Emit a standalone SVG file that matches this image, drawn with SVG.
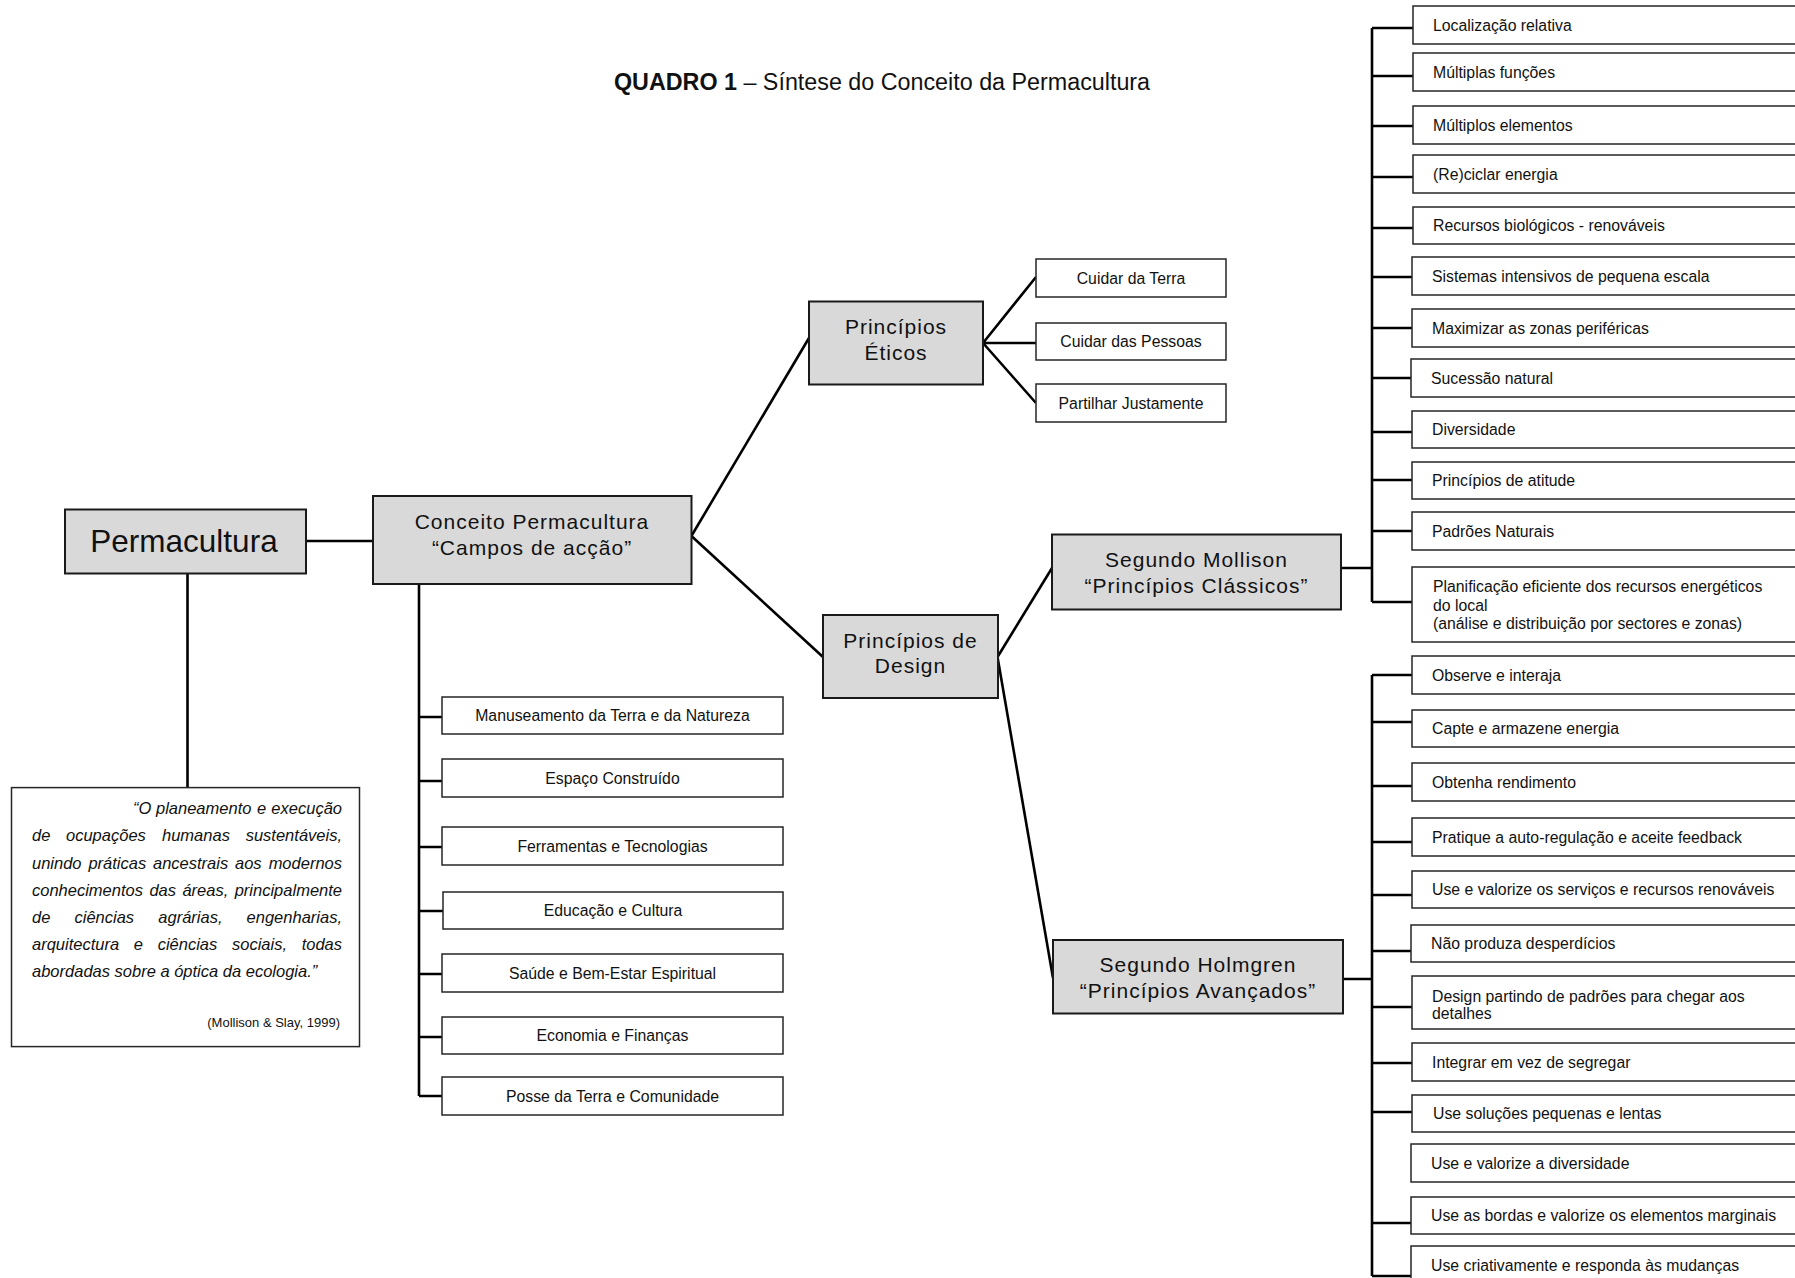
<svg xmlns="http://www.w3.org/2000/svg" width="1795" height="1278" viewBox="0 0 1795 1278">
  <style>
    .t { font-family: "Liberation Sans", Arial, sans-serif; fill: #111; }
    .gbox { fill: #d9d9d9; stroke: #1a1a1a; stroke-width: 2; }
    .leaf { fill: #fff; stroke: #262626; stroke-width: 1.5; }
    .head { font-size: 21px; letter-spacing: 1px; text-anchor: middle; }
    .lt { font-size: 15.8px; }
    .mid { text-anchor: middle; }
    .quote { font-size: 16.5px; font-style: italic; }
    #connectors path { stroke: #000; stroke-width: 2.6; fill: none; }
  </style>

  <rect width="1795" height="1278" fill="#fff"/>

  <!-- title -->
  <text class="t" x="614" y="89.5" font-size="23.3"><tspan font-weight="bold">QUADRO 1</tspan> – Síntese do Conceito da Permacultura</text>

  <!-- connectors -->
  <g id="connectors">
    <path d="M305.7 541 H373"/>
    <path d="M187.5 574 V787.6"/>
    <path d="M419 584 V1096 M419 717 H442 M419 781 H442 M419 847 H442 M419 911 H443 M419 974 H442 M419 1037 H442 M419 1096 H442"/>
    <path d="M691.4 536 L809 338"/>
    <path d="M691.4 536 L823 657"/>
    <path d="M983 343 L1036 277 M983 343 H1036 M983 343 L1036 403"/>
    <path d="M997.5 657 L1052 568"/>
    <path d="M997.5 657 L1053 978"/>
    <path d="M1341 568 H1372 M1372 28 V602 M1372 28 H1413 M1372 76 H1413 M1372 126 H1413 M1372 177 H1413 M1372 228 H1413 M1372 277 H1413 M1372 328 H1413 M1372 378 H1413 M1372 432 H1413 M1372 480 H1413 M1372 531 H1413 M1372 602 H1413"/>
    <path d="M1343 979 H1372 M1372 675 V1276 M1372 675 H1413 M1372 722 H1413 M1372 786 H1413 M1372 842 H1413 M1372 895 H1413 M1372 951 H1413 M1372 1007 H1413 M1372 1063 H1413 M1372 1112 H1413 M1372 1223 H1413 M1372 1276 H1413"/>
  </g>

  <!-- root -->
  <g id="permacultura">
    <rect class="gbox" x="65" y="509.5" width="241" height="64"/>
    <text class="t mid" x="184" y="552" font-size="31.5">Permacultura</text>
  </g>

  <g id="quote">
    <rect x="11.5" y="787.6" width="348" height="259" fill="#fff" stroke="#262626" stroke-width="1.5"/>
    <text class="t quote" y="814"><tspan x="133">“O</tspan><tspan x="156">planeamento</tspan><tspan x="257">e</tspan><tspan x="342" text-anchor="end">execução</tspan></text>
    <text class="t quote" y="841"><tspan x="32">de</tspan><tspan x="66">ocupações</tspan><tspan x="162">humanas</tspan><tspan x="342" text-anchor="end">sustentáveis,</tspan></text>
    <text class="t quote" y="868.5"><tspan x="32">unindo</tspan><tspan x="88.4">práticas</tspan><tspan x="153">ancestrais</tspan><tspan x="235">aos</tspan><tspan x="342" text-anchor="end">modernos</tspan></text>
    <text class="t quote" y="895.5"><tspan x="32">conhecimentos</tspan><tspan x="149.4">das</tspan><tspan x="182.4">áreas,</tspan><tspan x="342" text-anchor="end">principalmente</tspan></text>
    <text class="t quote" y="923"><tspan x="32">de</tspan><tspan x="74.5">ciências</tspan><tspan x="158.3">agrárias,</tspan><tspan x="342" text-anchor="end">engenharias,</tspan></text>
    <text class="t quote" y="950"><tspan x="32">arquitectura</tspan><tspan x="133.8">e</tspan><tspan x="157.7">ciências</tspan><tspan x="232">sociais,</tspan><tspan x="342" text-anchor="end">todas</tspan></text>
    <text class="t quote" x="32" y="977">abordadas sobre a óptica da ecologia.”</text>
    <text class="t" x="340" y="1027" font-size="13" text-anchor="end">(Mollison &amp; Slay, 1999)</text>
  </g>

  <!-- campos de acção -->
  <g id="conceito">
    <rect class="gbox" x="373" y="496" width="318.5" height="88"/>
    <text class="t head" x="532" y="528.5">Conceito Permacultura</text>
    <text class="t head" x="532" y="554.5">“Campos de acção”</text>
  </g>

  <g id="campos">
    <g id="campo-1"><rect class="leaf" x="442" y="697" width="341" height="37"/><text class="t lt mid" x="612.5" y="721">Manuseamento da Terra e da Natureza</text></g>
    <g id="campo-2"><rect class="leaf" x="442" y="759" width="341" height="38"/><text class="t lt mid" x="612.5" y="783.6">Espaço Construído</text></g>
    <g id="campo-3"><rect class="leaf" x="442" y="827" width="341" height="38"/><text class="t lt mid" x="612.5" y="851.6">Ferramentas e Tecnologias</text></g>
    <g id="campo-4"><rect class="leaf" x="443" y="892" width="340" height="37"/><text class="t lt mid" x="613" y="916">Educação e Cultura</text></g>
    <g id="campo-5"><rect class="leaf" x="442" y="954" width="341" height="38"/><text class="t lt mid" x="612.5" y="978.6">Saúde e Bem-Estar Espiritual</text></g>
    <g id="campo-6"><rect class="leaf" x="442" y="1017" width="341" height="37"/><text class="t lt mid" x="612.5" y="1041">Economia e Finanças</text></g>
    <g id="campo-7"><rect class="leaf" x="442" y="1077" width="341" height="38"/><text class="t lt mid" x="612.5" y="1101.6">Posse da Terra  e Comunidade</text></g>
  </g>

  <!-- ethics -->
  <g id="eticos">
    <rect class="gbox" x="809" y="301.5" width="174" height="83"/>
    <text class="t head" x="896" y="334">Princípios</text>
    <text class="t head" x="896" y="360">Éticos</text>
  </g>
  <g id="etica-leaves">
    <g id="etica-1"><rect class="leaf" x="1036" y="259" width="190" height="38"/><text class="t lt mid" x="1131" y="283.5">Cuidar da Terra</text></g>
    <g id="etica-2"><rect class="leaf" x="1036" y="323" width="190" height="37"/><text class="t lt mid" x="1131" y="347">Cuidar das Pessoas</text></g>
    <g id="etica-3"><rect class="leaf" x="1036" y="384" width="190" height="38"/><text class="t lt mid" x="1131" y="408.5">Partilhar Justamente</text></g>
  </g>

  <!-- design -->
  <g id="design">
    <rect class="gbox" x="823" y="615" width="175" height="83"/>
    <text class="t head" x="910.5" y="648">Princípios de</text>
    <text class="t head" x="910.5" y="673">Design</text>
  </g>

  <g id="mollison">
    <rect class="gbox" x="1052" y="534.5" width="289" height="75"/>
    <text class="t head" x="1196.5" y="567">Segundo Mollison</text>
    <text class="t head" x="1196.5" y="593">“Princípios Clássicos”</text>
  </g>

  <g id="holmgren">
    <rect class="gbox" x="1053" y="940" width="290" height="73.5"/>
    <text class="t head" x="1198" y="971.5">Segundo Holmgren</text>
    <text class="t head" x="1198" y="997.5">“Princípios Avançados”</text>
  </g>

  <!-- classic principles -->
  <g id="classicos">
    <g id="m1"><rect class="leaf" x="1413" y="6" width="400" height="38"/><text class="t lt" x="1433" y="30.7">Localização relativa</text></g>
    <g id="m2"><rect class="leaf" x="1413" y="53" width="400" height="38"/><text class="t lt" x="1433" y="77.7">Múltiplas funções</text></g>
    <g id="m3"><rect class="leaf" x="1413" y="106" width="400" height="38"/><text class="t lt" x="1433" y="130.7">Múltiplos elementos</text></g>
    <g id="m4"><rect class="leaf" x="1413" y="155" width="400" height="38"/><text class="t lt" x="1433" y="179.7">(Re)ciclar energia</text></g>
    <g id="m5"><rect class="leaf" x="1413" y="207" width="400" height="37"/><text class="t lt" x="1433" y="231.2">Recursos biológicos - renováveis</text></g>
    <g id="m6"><rect class="leaf" x="1412" y="257" width="400" height="38"/><text class="t lt" x="1432" y="281.7">Sistemas intensivos de pequena escala</text></g>
    <g id="m7"><rect class="leaf" x="1412" y="309" width="400" height="38"/><text class="t lt" x="1432" y="333.7">Maximizar as zonas periféricas</text></g>
    <g id="m8"><rect class="leaf" x="1411" y="359" width="400" height="38"/><text class="t lt" x="1431" y="383.7">Sucessão natural</text></g>
    <g id="m9"><rect class="leaf" x="1412" y="411" width="400" height="37"/><text class="t lt" x="1432" y="435.2">Diversidade</text></g>
    <g id="m10"><rect class="leaf" x="1412" y="462" width="400" height="37"/><text class="t lt" x="1432" y="486.2">Princípios de atitude</text></g>
    <g id="m11"><rect class="leaf" x="1412" y="512" width="400" height="38"/><text class="t lt" x="1432" y="536.7">Padrões Naturais</text></g>
    <g id="m12"><rect class="leaf" x="1412" y="567" width="400" height="75"/>
      <text class="t lt" x="1433" y="591.5">Planificação eficiente dos recursos energéticos</text>
      <text class="t lt" x="1433" y="610.5">do local</text>
      <text class="t lt" x="1433" y="628.5">(análise e distribuição por sectores e zonas)</text>
    </g>
  </g>

  <!-- advanced principles -->
  <g id="avancados">
    <g id="h1"><rect class="leaf" x="1412" y="656" width="400" height="38"/><text class="t lt" x="1432" y="680.7">Observe e interaja</text></g>
    <g id="h2"><rect class="leaf" x="1412" y="710" width="400" height="37"/><text class="t lt" x="1432" y="734.2">Capte e armazene energia</text></g>
    <g id="h3"><rect class="leaf" x="1412" y="763" width="400" height="38"/><text class="t lt" x="1432" y="787.7">Obtenha rendimento</text></g>
    <g id="h4"><rect class="leaf" x="1412" y="818" width="400" height="38"/><text class="t lt" x="1432" y="842.7">Pratique a auto-regulação e aceite feedback</text></g>
    <g id="h5"><rect class="leaf" x="1412" y="871" width="400" height="37"/><text class="t lt" x="1432" y="895.2">Use e valorize os serviços e recursos renováveis</text></g>
    <g id="h6"><rect class="leaf" x="1411" y="925" width="400" height="37"/><text class="t lt" x="1431" y="949.2">Não produza desperdícios</text></g>
    <g id="h7"><rect class="leaf" x="1412" y="976" width="400" height="53"/>
      <text class="t lt" x="1432" y="1001.5">Design partindo de padrões para chegar aos</text>
      <text class="t lt" x="1432" y="1018.5">detalhes</text>
    </g>
    <g id="h8"><rect class="leaf" x="1412" y="1043" width="400" height="38"/><text class="t lt" x="1432" y="1067.7">Integrar em vez de segregar</text></g>
    <g id="h9"><rect class="leaf" x="1412" y="1095" width="400" height="37"/><text class="t lt" x="1433" y="1119.2">Use soluções pequenas e lentas</text></g>
    <g id="h10"><rect class="leaf" x="1411" y="1144" width="400" height="38"/><text class="t lt" x="1431" y="1168.7">Use e valorize a diversidade</text></g>
    <g id="h11"><rect class="leaf" x="1411" y="1197" width="400" height="37"/><text class="t lt" x="1431" y="1221.2">Use as bordas e valorize os elementos marginais</text></g>
    <g id="h12"><rect class="leaf" x="1411" y="1246" width="400" height="60"/><text class="t lt" x="1431" y="1270.7">Use criativamente e responda às mudanças</text></g>
  </g>
</svg>
